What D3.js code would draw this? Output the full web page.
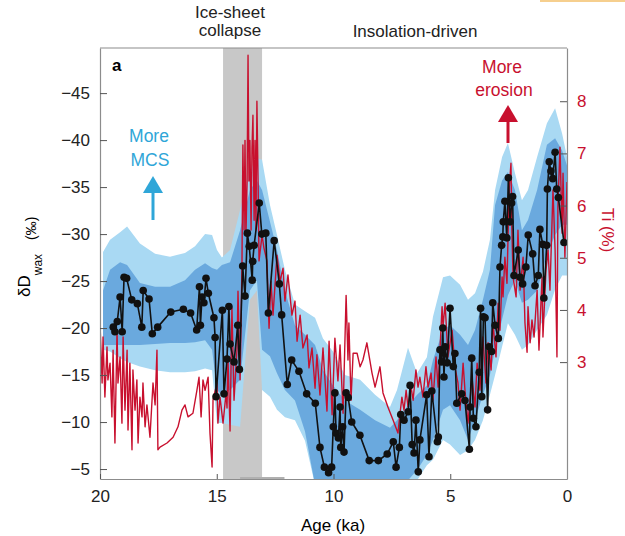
<!DOCTYPE html>
<html>
<head>
<meta charset="utf-8">
<script src="https://cdn.jsdelivr.net/npm/d3@7"></script>
<style>
  body { margin: 0; background: #fff; }
  text { font-family: 'Liberation Sans', Arial, sans-serif; }
</style>
</head>
<body>
<div id="vis"></div>
<script>
// dD_wax samples: age (ka) and value (per mil)
const sampleAge = [
  19.43, 19.36, 19.26, 19.14, 19.05, 18.97, 18.86, 18.64, 18.40, 18.21,
  18.15, 17.90, 17.76, 17.53, 16.97, 16.43, 16.12, 15.86, 15.74, 15.70,
  15.63, 15.55, 15.46, 15.36, 15.12, 15.07, 15.03, 14.76, 14.69, 14.56,
  14.48, 14.43, 14.26, 14.10, 14.03, 13.89, 13.79, 13.69, 13.61, 13.48,
  13.46, 13.40, 13.18, 13.07, 12.90, 12.79, 12.54, 12.32, 12.22, 11.98,
  11.79, 11.48, 11.15, 10.78, 10.58, 10.39, 10.21, 10.08, 10.01, 9.94,
  9.89, 9.79, 9.72, 9.69, 9.61, 9.55, 9.46, 9.37, 9.22, 8.87,
  8.47, 8.08, 7.70, 7.44, 7.32, 7.18, 7.12, 6.98, 6.80, 6.72,
  6.63, 6.55, 6.47, 6.37, 6.30, 6.01, 5.91, 5.79, 5.55, 5.51,
  5.44, 5.37, 5.32, 5.27, 5.22, 5.13, 5.01, 4.87, 4.80, 4.72,
  4.51, 4.37, 4.18, 4.15, 4.08, 4.01, 3.90, 3.76, 3.70, 3.65,
  3.58, 3.51, 3.40, 3.33, 3.23, 3.18, 3.08, 2.94, 2.87, 2.80,
  2.75, 2.73, 2.66, 2.58, 2.51, 2.44, 2.37, 2.33, 2.27, 2.09,
  2.01, 1.90, 1.76, 1.66, 1.47, 1.37, 1.23, 1.16, 1.04, 0.99,
  0.87, 0.84, 0.76, 0.69, 0.61, 0.51, 0.44, 0.37, 0.13
];
const sampleDD = [
  -20.1, -19.6, -20.7, -23.3, -19.6, -25.4, -25.3, -23.0, -22.6, -20.1,
  -24.0, -23.1, -19.4, -20.1, -21.7, -22.0, -21.6, -19.8, -24.4, -20.3,
  -23.3, -22.7, -25.3, -23.7, -21.1, -19.0, -12.7, -21.9, -13.0, -16.7,
  -22.3, -18.3, -16.4, -20.3, -15.6, -26.6, -23.4, -30.1, -28.7, -25.1,
  -27.1, -28.8, -33.3, -30.0, -30.1, -21.6, -29.3, -24.7, -21.4, -14.0,
  -16.6, -15.4, -13.0, -12.0, -7.3, -5.2, -4.6, -5.2, -9.5, -13.1,
  -8.8, -8.3, -11.6, -7.3, -9.5, -6.8, -13.1, -12.6, -10.0, -8.6,
  -5.9, -5.9, -6.6, -7.9, -5.2, -7.3, -10.8, -10.2, -11.1, -13.9,
  -7.6, -6.7, -10.2, -4.7, -8.1, -12.9, -6.3, -13.3, -7.9, -8.4,
  -17.7, -16.4, -20.0, -14.8, -18.0, -16.3, -22.1, -15.9, -17.3, -12.0,
  -13.0, -12.3, -7.1, -11.6, -16.8, -10.4, -9.5, -15.3, -22.1, -12.7,
  -21.2, -21.1, -11.3, -18.0, -17.5, -22.7, -20.3, -18.9, -26.5, -28.8,
  -29.7, -31.3, -33.5, -29.6, -36.0, -31.3, -33.3, -34.0, -25.6, -28.3,
  -25.4, -24.7, -26.5, -29.9, -27.9, -24.5, -25.6, -30.5, -28.9, -23.2,
  -28.8, -34.8, -37.7, -36.7, -35.9, -38.7, -34.8, -33.9, -29.1
];

// Ti record: age (ka) and Ti (%)
const tiAge = [
  20.00, 19.91, 19.87, 19.79, 19.70, 19.66, 19.57, 19.49, 19.44, 19.36,
  19.27, 19.23, 19.14, 19.06, 19.01, 18.93, 18.84, 18.80, 18.72, 18.63,
  18.59, 18.50, 18.42, 18.37, 18.29, 18.20, 18.16, 18.07, 17.99, 17.86,
  17.73, 17.64, 17.56, 17.52, 17.43, 17.13, 16.87, 16.66, 16.49, 16.36,
  16.23, 16.02, 15.85, 15.76, 15.67, 15.59, 15.50, 15.37, 15.29, 15.20,
  15.16, 14.99, 14.95, 14.86, 14.73, 14.60, 14.56, 14.52, 14.43, 14.35,
  14.26, 14.13, 14.09, 14.00, 13.92, 13.88, 13.83, 13.79, 13.75, 13.70,
  13.66, 13.62, 13.58, 13.53, 13.49, 13.45, 13.40, 13.36, 13.32, 13.28,
  13.23, 13.19, 13.06, 12.98, 12.85, 12.76, 12.68, 12.59, 12.42, 12.29,
  12.16, 12.08, 11.95, 11.78, 11.65, 11.56, 11.43, 11.31, 11.13, 11.05,
  10.92, 10.79, 10.71, 10.58, 10.45, 10.28, 10.19, 10.06, 9.94, 9.81,
  9.72, 9.59, 9.46, 9.38, 9.34, 9.25, 9.16, 8.99, 8.86, 8.74,
  8.57, 8.35, 8.22, 8.01, 7.88, 7.67, 7.45, 7.24, 7.15, 7.07,
  6.98, 6.89, 6.81, 6.68, 6.59, 6.47, 6.38, 6.30, 6.17, 6.04,
  5.95, 5.82, 5.74, 5.61, 5.52, 5.35, 5.31, 5.22, 5.10, 4.92,
  4.80, 4.67, 4.58, 4.45, 4.37, 4.24, 4.07, 3.94, 3.85, 3.73,
  3.60, 3.47, 3.38, 3.25, 3.17, 3.04, 2.95, 2.87, 2.78, 2.74,
  2.66, 2.57, 2.48, 2.40, 2.36, 2.31, 2.18, 2.10, 2.01, 1.88,
  1.80, 1.71, 1.67, 1.58, 1.50, 1.41, 1.28, 1.20, 1.07, 1.03,
  0.90, 0.81, 0.73, 0.60, 0.51, 0.43, 0.39, 0.30, 0.21, 0.17,
  0.09, 0.00
];
const tiValue = [
  3.75, 2.60, 3.48, 2.33, 3.29, 2.66, 2.98, 1.95, 3.23, 1.45,
  3.61, 2.60, 3.10, 1.83, 3.48, 2.08, 3.23, 1.70, 2.98, 1.32,
  2.85, 2.08, 2.66, 1.45, 2.33, 1.95, 2.60, 1.76, 2.18, 1.56,
  2.60, 2.18, 3.23, 1.32, 1.37, 1.45, 1.56, 1.76, 2.08, 2.18,
  1.95, 2.02, 2.46, 2.71, 1.95, 2.66, 2.46, 2.71, 1.64, 0.99,
  2.27, 2.60, 1.83, 2.33, 1.83, 2.41, 2.12, 3.08, 1.68, 4.04,
  2.27, 3.27, 4.36, 2.66, 4.86, 7.16, 5.53, 7.25, 5.43, 6.47,
  8.88, 6.47, 7.25, 5.53, 7.10, 7.73, 5.72, 7.25, 5.53, 8.00,
  6.47, 4.94, 5.43, 5.19, 4.94, 3.65, 4.55, 3.90, 5.05, 4.55,
  4.80, 4.17, 4.67, 3.90, 4.17, 3.40, 3.90, 3.27, 3.52, 2.89,
  3.27, 2.50, 3.14, 2.37, 3.27, 2.06, 3.40, 1.99, 3.46, 2.64,
  3.33, 2.02, 4.28, 3.04, 3.75, 2.27, 3.17, 3.17, 2.91, 3.04,
  3.37, 2.79, 2.52, 2.91, 2.41, 2.14, 1.89, 1.64, 2.02, 2.33,
  2.08, 2.46, 2.14, 2.52, 2.27, 2.85, 2.52, 2.71, 2.33, 2.91,
  2.52, 2.79, 2.27, 3.10, 2.52, 4.06, 3.67, 4.13, 3.10, 3.61,
  2.91, 2.60, 2.08, 2.98, 2.46, 1.83, 2.71, 2.14, 2.98, 2.46,
  3.48, 2.60, 3.37, 2.85, 3.75, 3.10, 4.13, 3.61, 4.63, 4.25,
  5.01, 4.51, 6.30, 6.81, 5.53, 4.63, 4.25, 5.53, 4.38, 5.01,
  3.75, 3.19, 4.06, 3.37, 3.81, 3.48, 4.38, 3.23, 4.63, 3.48,
  4.76, 5.15, 4.38, 6.30, 5.15, 3.10, 5.97, 7.12, 5.47, 6.62,
  5.01, 6.45
];

// uncertainty envelopes of the dD_wax record (outer = light, inner = dark)
const bandAge = [
  19.87, 19.57, 19.14, 18.84, 18.29, 17.64, 17.00, 16.36, 15.93, 15.50,
  15.20, 14.99, 14.78, 14.43, 14.00, 13.58, 13.28, 13.06, 12.72, 12.42,
  12.08, 11.65, 11.22, 10.79, 10.45, 10.02, 9.51, 8.86, 8.22, 7.58,
  7.28, 6.81, 6.42, 6.00, 5.74, 5.31, 5.01, 4.58, 4.24, 3.94,
  3.60, 3.30, 3.08, 2.78, 2.53, 2.23, 1.93, 1.67, 1.28, 0.86,
  0.51, 0.21, 0.00
];
const outerTop = [
  -28.1, -29.4, -30.2, -30.8, -29.0, -27.9, -27.6, -28.0, -28.7, -30.0,
  -29.9, -28.3, -27.5, -28.3, -32.6, -36.8, -38.1, -37.9, -33.1, -29.9,
  -26.2, -22.5, -21.8, -21.1, -18.9, -17.5, -15.0, -14.5, -12.9, -11.6,
  -13.4, -17.9, -15.2, -16.9, -21.2, -25.4, -25.6, -24.6, -23.0, -23.7,
  -26.0, -29.4, -34.7, -38.2, -39.7, -36.5, -33.6, -34.7, -38.2, -41.8,
  -43.4, -40.7, -38.2
];
const outerBottom = [
  -17.7, -17.5, -16.8, -16.4, -15.9, -15.5, -15.3, -15.3, -15.4, -15.7,
  -15.5, -9.9, -9.9, -9.7, -9.5, -23.0, -24.0, -13.4, -12.7, -11.3,
  -10.5, -10.2, -8.0, -3.3, -3.3, -3.3, -3.3, -3.3, -3.3, -3.3,
  -3.3, -3.3, -3.8, -5.4, -6.0, -8.1, -7.6, -6.5, -7.0, -8.1,
  -10.2, -12.9, -15.0, -18.0, -20.5, -19.3, -17.7, -18.2, -19.8, -21.4,
  -24.1, -25.6, -25.6
];
const innerTop = [
  -24.0, -26.2, -27.0, -26.7, -24.8, -24.4, -24.4, -25.1, -26.2, -26.9,
  -26.4, -26.2, -26.7, -27.0, -30.4, -34.7, -35.7, -34.7, -31.3, -28.3,
  -24.0, -20.3, -19.3, -18.2, -15.5, -13.9, -12.3, -11.3, -10.2, -9.4,
  -10.2, -11.8, -12.9, -13.9, -16.6, -19.8, -20.3, -19.3, -18.2, -19.8,
  -23.0, -26.2, -33.1, -35.7, -36.6, -34.7, -30.4, -31.5, -34.7, -39.5,
  -40.2, -38.9, -37.3
];
const innerBottom = [
  -18.2, -18.2, -18.2, -18.2, -18.2, -18.3, -18.4, -18.4, -18.5, -18.7,
  -17.7, -13.4, -12.9, -13.4, -14.5, -24.0, -25.1, -17.7, -17.0, -15.2,
  -13.4, -12.3, -9.0, -3.3, -3.3, -3.3, -3.3, -3.3, -3.3, -3.3,
  -3.3, -3.8, -4.9, -6.5, -8.1, -11.3, -11.8, -10.2, -8.1, -10.2,
  -12.9, -15.0, -17.7, -20.9, -23.5, -25.1, -22.7, -23.0, -24.0, -27.8,
  -29.9, -31.0, -31.0
];

const ageTicks = [20, 15, 10, 5, 0];
const ddTicks = [-45, -40, -35, -30, -25, -20, -15, -10, -5];
const tiTicks = [3, 4, 5, 6, 7, 8];
const collapseSpan = [14.73, 13.06];
const dryasSpan = [14.0, 12.1];

const red = '#c8102e';
const blue = '#2fa6d8';
const axisGrey = '#8c8c8c';

// set the dimensions and margins of the graph
const margin = {top: 48, right: 58, bottom: 57, left: 100};
const width = 625 - margin.left - margin.right;
const height = 536 - margin.top - margin.bottom;

const svgRoot = d3.select('#vis')
  .append('svg')
  .attr('width', 625)
  .attr('height', 536);
const svg = svgRoot.append('g')
  .attr('transform', 'translate(' + margin.left + ',' + margin.top + ')');

const x = d3.scaleLinear().domain([20, 0]).range([0, width]);
const y = d3.scaleLinear().domain([-3.94, -49.8]).range([height, 0]);
const yTi = d3.scaleLinear().domain([0.76, 9.02]).range([height, 0]);

svg.append('clipPath').attr('id', 'plotClip')
  .append('rect').attr('width', width).attr('height', height);

const plot = svg.append('g').attr('clip-path', 'url(#plotClip)');

// ice-sheet collapse interval
plot.append('rect')
  .attr('x', x(collapseSpan[0]))
  .attr('width', x(collapseSpan[1]) - x(collapseSpan[0]))
  .attr('y', 0)
  .attr('height', height)
  .attr('fill', '#c8c8c8');

// envelopes
const bands = bandAge.map((a, i) => ({
  age: a, oTop: outerTop[i], oBot: outerBottom[i], iTop: innerTop[i], iBot: innerBottom[i],
}));
plot.append('path')
  .datum(bands)
  .attr('fill', '#a9d9f3')
  .attr('d', d3.area().x((d) => x(d.age)).y0((d) => y(d.oBot)).y1((d) => y(d.oTop)));
plot.append('path')
  .datum(bands)
  .attr('fill', '#6aa9de')
  .attr('d', d3.area().x((d) => x(d.age)).y0((d) => y(d.iBot)).y1((d) => y(d.iTop)));

// Ti record
const ti = tiAge.map((a, i) => ({age: a, v: tiValue[i]}));
plot.append('path')
  .datum(ti)
  .attr('fill', 'none')
  .attr('stroke', red)
  .attr('stroke-width', 1.4)
  .attr('stroke-linejoin', 'round')
  .attr('d', d3.line().x((d) => x(d.age)).y((d) => yTi(d.v)));

// dD_wax samples
const samples = sampleAge.map((a, i) => ({age: a, v: sampleDD[i]}));
plot.append('path')
  .datum(samples)
  .attr('fill', 'none')
  .attr('stroke', '#111')
  .attr('stroke-width', 1.6)
  .attr('d', d3.line().x((d) => x(d.age)).y((d) => y(d.v)));
plot.selectAll('circle')
  .data(samples)
  .enter()
  .append('circle')
  .attr('cx', (d) => x(d.age))
  .attr('cy', (d) => y(d.v))
  .attr('r', 3.8)
  .attr('fill', '#111');

// small grey bar on the age axis
svg.append('rect')
  .attr('x', x(dryasSpan[0]))
  .attr('width', x(dryasSpan[1]) - x(dryasSpan[0]))
  .attr('y', height - 2)
  .attr('height', 3)
  .attr('fill', '#b0b0b0');

// axes
function styleAxis(g, colour) {
  g.attr('font-size', null).attr('font-family', null);
  g.select('.domain').attr('stroke', axisGrey).attr('stroke-width', 1.2);
  g.selectAll('.tick line').attr('stroke', '#555');
  g.selectAll('.tick text').attr('fill', colour).style('font-size', '17px');
}

svg.append('g')
  .call(d3.axisLeft(y).tickValues(ddTicks).tickSize(-7).tickSizeOuter(0).tickPadding(10))
  .call((g) => styleAxis(g, '#222'));

svg.append('g')
  .attr('transform', 'translate(0,' + height + ')')
  .call(d3.axisBottom(x).tickValues(ageTicks).tickSize(-5).tickSizeOuter(0).tickPadding(11))
  .call((g) => styleAxis(g, '#222'));

svg.append('g')
  .attr('transform', 'translate(' + width + ',0)')
  .call(d3.axisRight(yTi).tickValues(tiTicks).tickSize(-7).tickSizeOuter(0).tickPadding(10))
  .call((g) => styleAxis(g, red));

svg.append('line')
  .attr('x1', 0).attr('x2', width)
  .attr('y1', 0).attr('y2', 0)
  .attr('stroke', axisGrey).attr('stroke-width', 1.2);

// labels
svg.append('text')
  .attr('x', 12).attr('y', 23)
  .style('font-size', '17px').style('font-weight', 'bold')
  .text('a');

svgRoot.append('text')
  .attr('x', 333).attr('y', 531)
  .attr('text-anchor', 'middle')
  .style('font-size', '17px')
  .text('Age (ka)');

const yLabel = svgRoot.append('text')
  .attr('transform', 'translate(30,297) rotate(-90)')
  .style('font-size', '17px');
yLabel.append('tspan').text('δD');
yLabel.append('tspan').attr('dy', 12).style('font-size', '12px').text('wax');
yLabel.append('tspan').attr('dx', 14).attr('dy', -6).style('font-size', '14px').text('(‰)');

svgRoot.append('text')
  .attr('transform', 'translate(602,230) rotate(90)')
  .attr('text-anchor', 'middle')
  .attr('fill', red)
  .style('font-size', '17px')
  .text('Ti (%)');

const topLabels = [
  {t: 'Ice-sheet', cx: 230, cy: 18},
  {t: 'collapse', cx: 230, cy: 36},
  {t: 'Insolation-driven', cx: 415, cy: 37},
];
svgRoot.selectAll('.toplabel')
  .data(topLabels)
  .enter()
  .append('text')
  .attr('class', 'toplabel')
  .attr('x', (d) => d.cx).attr('y', (d) => d.cy)
  .attr('text-anchor', 'middle')
  .attr('fill', '#222')
  .style('font-size', '17px')
  .text((d) => d.t);

// annotations with arrows
function annotate(lines, cx, colour, shaftFrom, tipY) {
  lines.forEach((l) => {
    svgRoot.append('text')
      .attr('x', l.x).attr('y', l.y)
      .attr('text-anchor', 'middle')
      .attr('fill', colour)
      .style('font-size', '17.5px')
      .text(l.t);
  });
  svgRoot.append('line')
    .attr('x1', cx).attr('x2', cx)
    .attr('y1', shaftFrom).attr('y2', tipY + 14)
    .attr('stroke', colour).attr('stroke-width', 3);
  svgRoot.append('path')
    .attr('d', 'M' + (cx - 10) + ',' + (tipY + 17) + 'L' + cx + ',' + tipY +
      'L' + (cx + 10) + ',' + (tipY + 17) + 'Z')
    .attr('fill', colour);
}
annotate([{t: 'More', x: 149, y: 142}, {t: 'MCS', x: 150, y: 166}], 153, blue, 220, 176);
annotate([{t: 'More', x: 502, y: 73}, {t: 'erosion', x: 504, y: 96}], 508, red, 143, 105);

// faint orange strip at the top-right edge of the source image
svgRoot.append('rect')
  .attr('x', 540).attr('y', 0).attr('width', 85).attr('height', 2)
  .attr('fill', '#f6cf8e');
</script>
</body>
</html>
